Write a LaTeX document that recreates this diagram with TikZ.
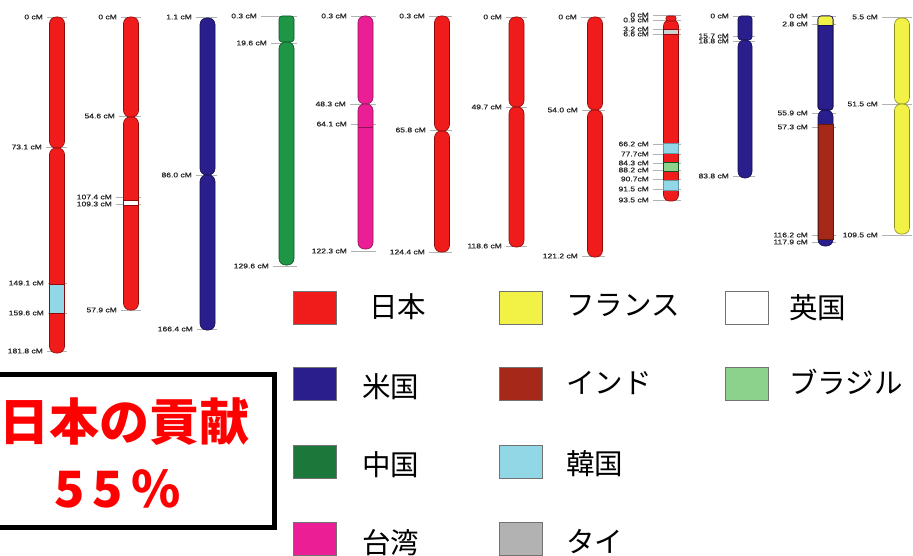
\documentclass[tikz,border=0pt]{standalone}
\usepackage{fontspec}
\setmainfont{Liberation Sans}
\newfontfamily\labfont[FakeStretch=1.25,FakeBold=0.8]{Liberation Sans}
\newfontfamily\cjk{Noto Sans CJK JP}
\definecolor{cred}{RGB}{240,28,28}
\definecolor{cdred}{RGB}{140,10,10}
\definecolor{cblue}{RGB}{42,30,140}
\definecolor{cdblue}{RGB}{20,15,80}
\definecolor{cgreen}{RGB}{30,150,70}
\definecolor{cdgreen}{RGB}{15,80,35}
\definecolor{lgreen}{RGB}{28,120,58}
\definecolor{cpink}{RGB}{235,30,150}
\definecolor{cdpink}{RGB}{140,20,90}
\definecolor{cyellow}{RGB}{242,242,70}
\definecolor{cdyellow}{RGB}{140,140,30}
\definecolor{cbrown}{RGB}{165,40,25}
\definecolor{ccyan}{RGB}{145,215,230}
\definecolor{clgreen}{RGB}{140,210,140}
\definecolor{cgray}{RGB}{178,178,178}
\tikzset{
  lab/.style={anchor=east, inner sep=0pt, font=\labfont\fontsize{6.8}{7}\selectfont, text=black!85},
  tickline/.style={draw=gray!60, line width=0.6pt},
  chrline/.style={line width=0.6pt},
  legbox/.style={draw=black!55, line width=0.8pt, minimum width=43pt, minimum height=33pt, inner sep=0pt, anchor=north west},
  legtxt/.style={anchor=west, inner sep=0pt, font=\cjk\fontsize{28.5}{30}\selectfont},
  boxtxt/.style={text=red, font=\cjk\bfseries\fontsize{50}{55}\selectfont, inner sep=0pt}
}
% name, right x, y, text, tick end x
\newcommand\cmlab[5]{\node[lab] (#1) at (#2,#3) {#4};
  \draw[tickline] ([xshift=4pt]#1.east) -- (#5,#3);}
% x, top, cen, bottom, fill, outline
\newcommand\chrtwo[6]{%
  \filldraw[fill=#5, draw=#6, chrline, rounded corners=6.5pt] (#1-7.5,#2) rectangle (#1+7.5,#3);
  \filldraw[fill=#5, draw=#6, chrline, rounded corners=6.5pt] (#1-7.5,#3) rectangle (#1+7.5,#4);}
% x, y1, y2, fill, outline
\newcommand\band[5]{\filldraw[fill=#4, draw=#5, chrline] (#1-7.5,#2) rectangle (#1+7.5,#3);}
\begin{document}
\begin{tikzpicture}[x=1pt,y=-1pt]
\useasboundingbox (0,0) rectangle (913,556);
\clip (0,0) rectangle (913,556);
% ---------- labels and ticks
\cmlab{a1}{43}{17}{0 cM}{67}
\cmlab{a2}{42}{147}{73.1 cM}{67}
\cmlab{a3}{44}{283}{149.1 cM}{67}
\cmlab{a4}{44}{313}{159.6 cM}{67}
\cmlab{a5}{43}{351}{181.8 cM}{67}
\cmlab{b1}{117}{17}{0 cM}{141}
\cmlab{b2}{115}{116}{54.6 cM}{141}
\cmlab{b3}{112}{197}{107.4 cM}{141}
\cmlab{b4}{112}{204}{109.3 cM}{141}
\cmlab{b5}{117}{310}{57.9 cM}{141}
\cmlab{c1}{192}{17}{1.1 cM}{217}
\cmlab{c2}{192}{175}{86.0 cM}{217}
\cmlab{c3}{193}{329}{166.4 cM}{217}
\cmlab{d1}{257}{16}{0.3 cM}{297}
\cmlab{d2}{267}{43}{19.6 cM}{297}
\cmlab{d3}{269}{266}{129.6 cM}{297}
\cmlab{e1}{347}{16}{0.3 cM}{376}
\cmlab{e2}{346}{104}{48.3 cM}{376}
\cmlab{e3}{347}{124}{64.1 cM}{376}
\cmlab{e4}{347}{251}{122.3 cM}{376}
\cmlab{f1}{425}{16}{0.3 cM}{452}
\cmlab{f2}{426}{130}{65.8 cM}{452}
\cmlab{f3}{425}{252}{124.4 cM}{452}
\cmlab{g1}{502}{17}{0 cM}{527}
\cmlab{g2}{502}{107}{49.7 cM}{527}
\cmlab{g3}{502}{246}{118.6 cM}{527}
\cmlab{h1}{577}{17}{0 cM}{605}
\cmlab{h2}{578}{110}{54.0 cM}{605}
\cmlab{h3}{578}{256}{121.2 cM}{605}
\cmlab{i1}{649}{15}{0 cM}{681}
\cmlab{i2}{649}{20}{0.9 cM}{681}
\cmlab{i3}{649}{29}{3.2 cM}{681}
\cmlab{i4}{649}{34}{6.6 cM}{681}
\cmlab{i5}{649}{144}{66.2 cM}{681}
\cmlab{i6}{649}{154}{77.7cM}{681}
\cmlab{i7}{649}{163}{84.3 cM}{681}
\cmlab{i8}{649}{170}{88.2 cM}{681}
\cmlab{i9}{649}{179}{90.7cM}{681}
\cmlab{i10}{649}{189}{91.5 cM}{681}
\cmlab{i11}{649}{200}{93.5 cM}{681}
\cmlab{j1}{729}{16}{0 cM}{755}
\cmlab{j2}{729}{36}{15.7 cM}{755}
\cmlab{j3}{729}{41}{18.8 cM}{755}
\cmlab{j4}{729}{176}{83.8 cM}{755}
\cmlab{k1}{808}{16}{0 cM}{836}
\cmlab{k2}{808}{24}{2.8 cM}{836}
\cmlab{k3}{808}{113}{55.9 cM}{836}
\cmlab{k4}{808}{127}{57.3 cM}{836}
\cmlab{k5}{808}{235}{116.2 cM}{836}
\cmlab{k6}{808}{242}{117.9 cM}{836}
\cmlab{l1}{878}{17}{5.5 cM}{912}
\cmlab{l2}{878}{104}{51.5 cM}{912}
\cmlab{l3}{878}{235}{109.5 cM}{912}
% ---------- chromosomes
\chrtwo{57}{17}{148}{353}{cred}{cdred}
\band{57}{284}{313}{ccyan}{cdred}
\chrtwo{131}{17}{117}{310}{cred}{cdred}
\band{131}{200}{205}{white}{cdred}
\chrtwo{207.5}{18}{175}{330}{cblue}{cdblue}
\filldraw[fill=cgreen, draw=cdgreen, chrline, rounded corners=3pt] (279,16) rectangle (294,42);
\filldraw[fill=cgreen, draw=cdgreen, chrline, rounded corners=6.5pt] (279,42) rectangle (294,265);
\chrtwo{365.5}{16}{104}{249}{cpink}{cdpink}
\draw[cdpink, line width=0.8pt] (358,127) -- (373,127);
\chrtwo{442}{16}{131}{252}{cred}{cdred}
\chrtwo{516.5}{17}{107}{247}{cred}{cdred}
\chrtwo{595}{17}{110}{257}{cred}{cdred}
% chromosome 9
\filldraw[fill=cred, draw=cdred, chrline, rounded corners=6pt] (663.5,20) rectangle (678.5,201);
\filldraw[fill=cred, draw=cdred, chrline, rounded corners=2pt] (666,16) rectangle (676,21);
\band{671}{29}{34}{cgray!60}{cdred}
\band{671}{143}{153}{ccyan}{ccyan!70!black}
\band{671}{162}{171}{clgreen}{cdgreen}
\band{671}{180}{190}{ccyan}{ccyan!70!black}
% chromosome 10
\filldraw[fill=cblue, draw=cdblue, chrline, rounded corners=3pt] (738,16) rectangle (752,40);
\filldraw[fill=cblue, draw=cdblue, chrline, rounded corners=6.5pt] (738,40) rectangle (752,178);
% chromosome 11
\filldraw[fill=cblue, draw=cdblue, chrline, rounded corners=3pt] (818,16) rectangle (833,110);
\filldraw[fill=cblue, draw=cdblue, chrline, rounded corners=6.5pt] (818,110) rectangle (833,246);
\begin{scope}
  \clip[rounded corners=3pt] (818,16) rectangle (833,110);
  \fill[cyellow] (818,16) rectangle (833,25);
\end{scope}
\draw[cdblue, chrline, rounded corners=3pt] (818,16) rectangle (833,110);
\draw[cdblue, chrline] (818,25) -- (833,25);
\band{825.5}{124}{239}{cbrown}{cbrown!60!black}
% chromosome 12
\chrtwo{902}{18}{104}{234}{cyellow}{cdyellow}
% ---------- legend
\node[legbox, fill=cred]    (s1) at (293,291) {};
\node[legbox, fill=cblue]   (s2) at (293,367) {};
\node[legbox, fill=lgreen]  (s3) at (293,445) {};
\node[legbox, fill=cpink]   (s4) at (293,522) {};
\node[legbox, fill=cyellow] (s5) at (499,291) {};
\node[legbox, fill=cbrown]  (s6) at (499,367) {};
\node[legbox, fill=ccyan]   (s7) at (499,445) {};
\node[legbox, fill=cgray]   (s8) at (499,522) {};
\node[legbox, fill=white]   (s9) at (725,291) {};
\node[legbox, fill=clgreen] (s10) at (725,367) {};
\node[legtxt] (t1) at (369,307) {日本};
\node[legtxt] (t2) at (362,387) {米国};
\node[legtxt] (t3) at (362,465) {中国};
\node[legtxt] (t4) at (362,543) {台湾};
\node[legtxt] (t5) at (566,305) {フランス};
\node[legtxt] (t6) at (566,383) {インド};
\node[legtxt] (t7) at (566,464) {韓国};
\node[legtxt] (t8) at (566,542) {タイ};
\node[legtxt] (t9) at (789,308) {英国};
\node[legtxt] (t10) at (789,382) {ブラジル};
% ---------- box
\draw[line width=5pt] (-20,374.5) rectangle (274.5,527);
\node[boxtxt] (m1) at (124,422) {日本の貢献};
\node[boxtxt] (m2) at (117.5,489) {5\hspace{8pt}5\hspace{8pt}\%};
\end{tikzpicture}
\end{document}
